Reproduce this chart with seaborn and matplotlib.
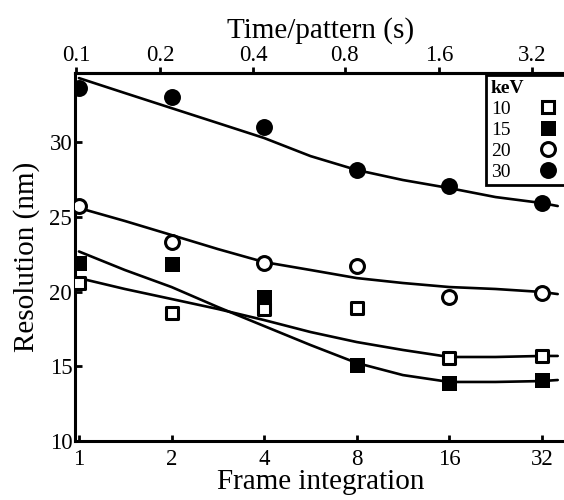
import seaborn as sns
from matplotlib import pyplot as plt
from matplotlib.lines import Line2D

# measured points, resolution (nm) vs frame integration
frames = [1, 2, 4, 8, 16, 32]
res_10 = [20.57, 18.56, 18.83, 18.90, 15.55, 15.69]
res_15 = [21.91, 21.84, 19.63, 15.08, 13.88, 14.08]
res_20 = [25.72, 23.31, 21.91, 21.71, 19.63, 19.90]
res_30 = [33.61, 33.01, 31.00, 28.13, 27.06, 25.92]

# fit curves
fit_frames = [1, 1.41, 2, 2.83, 4, 5.66, 8, 11.3, 16, 22.6, 32, 36]
fit_10 = [20.90, 20.17, 19.50, 18.83, 18.09, 17.29, 16.62, 16.09, 15.62, 15.62, 15.69, 15.69]
fit_15 = [22.68, 21.44, 20.30, 18.96, 17.69, 16.42, 15.22, 14.41, 13.95, 13.95, 14.01, 14.08]
fit_20 = [25.59, 24.72, 23.78, 22.84, 21.97, 21.44, 20.90, 20.57, 20.30, 20.17, 19.97, 19.83]
fit_30 = [34.28, 33.28, 32.27, 31.27, 30.27, 29.06, 28.13, 27.46, 26.92, 26.32, 25.92, 25.72]

energies = ['10', '15', '20', '30']
frame_labels = ['1', '2', '4', '8', '16', '32']
time_labels = ['0.1', '0.2', '0.4', '0.8', '1.6', '3.2']
time_tick_pos = [0.98, 1.834, 3.68, 7.32, 14.8, 29.7]

sns.set_theme(style="ticks")
plt.rcParams['font.family'] = ['Liberation Serif', 'DejaVu Serif']
plt.rcParams['axes.linewidth'] = 2.2
for key in ['text.color', 'axes.labelcolor', 'axes.edgecolor', 'xtick.color', 'ytick.color']:
    plt.rcParams[key] = 'black'

fig = plt.figure(figsize=(5.64, 5.0), dpi=100)
ax = fig.add_axes([75 / 564, 59 / 500, 491 / 564, 368 / 500])
ax.set_xscale('log', base=2)

for fit in [fit_10, fit_15, fit_20, fit_30]:
    sns.lineplot(x=fit_frames, y=fit, color='black', linewidth=1.9, ax=ax, zorder=2)

open_kw = dict(color='white', edgecolor='black', linewidth=2.2, zorder=3, ax=ax)
fill_kw = dict(color='black', edgecolor='black', linewidth=0, zorder=3, ax=ax)
sns.scatterplot(x=frames, y=res_10, marker='s', s=8.2 ** 2, **open_kw)
sns.scatterplot(x=frames, y=res_15, marker='s', s=10.8 ** 2, **fill_kw)
sns.scatterplot(x=frames, y=res_20, marker='o', s=10 ** 2, **open_kw)
sns.scatterplot(x=frames, y=res_30, marker='o', s=12.2 ** 2, **fill_kw)

ax.set_xlim(0.971, 38.3)
ax.set_ylim(10, 34.62)
ax.set_xticks(frames, frame_labels)
ax.minorticks_off()
ax.set_yticks([10, 15, 20, 25, 30])
ax.tick_params(axis='x', direction='in', length=4, width=2, labelsize=16.5, pad=6)
ax.tick_params(axis='y', direction='in', length=5, width=2, labelsize=16.5, pad=2)
ax.set_xlabel('Frame integration', fontsize=21, labelpad=-1)
ax.set_ylabel('Resolution (nm)', fontsize=21, labelpad=7)

top = ax.secondary_xaxis('top')
top.set_xticks(time_tick_pos, time_labels)
top.minorticks_off()
top.tick_params(direction='out', length=4, width=2, labelsize=16.5, pad=1)
top.set_xlabel('Time/pattern (s)', fontsize=21, labelpad=5)

handles = [
    Line2D([], [], ls='', marker='s', ms=8.2, mfc='white', mec='black', mew=2.2),
    Line2D([], [], ls='', marker='s', ms=10.8, mfc='black', mec='black', mew=0),
    Line2D([], [], ls='', marker='o', ms=10, mfc='white', mec='black', mew=2.2),
    Line2D([], [], ls='', marker='o', ms=12.2, mfc='black', mec='black', mew=0),
]
leg = ax.legend(handles, energies, title='keV', loc='upper left',
                bbox_to_anchor=(486 / 564, 1 - 75 / 500), bbox_transform=fig.transFigure,
                markerfirst=False, frameon=True, fancybox=False, edgecolor='black',
                framealpha=1, borderpad=0.25, borderaxespad=0, handlelength=1.9,
                handletextpad=1.0, labelspacing=0.17, alignment='left',
                fontsize=14, title_fontproperties={'size': 14, 'weight': 'bold'})
leg.get_frame().set_linewidth(2)

fig.savefig('out.png', dpi=100)
